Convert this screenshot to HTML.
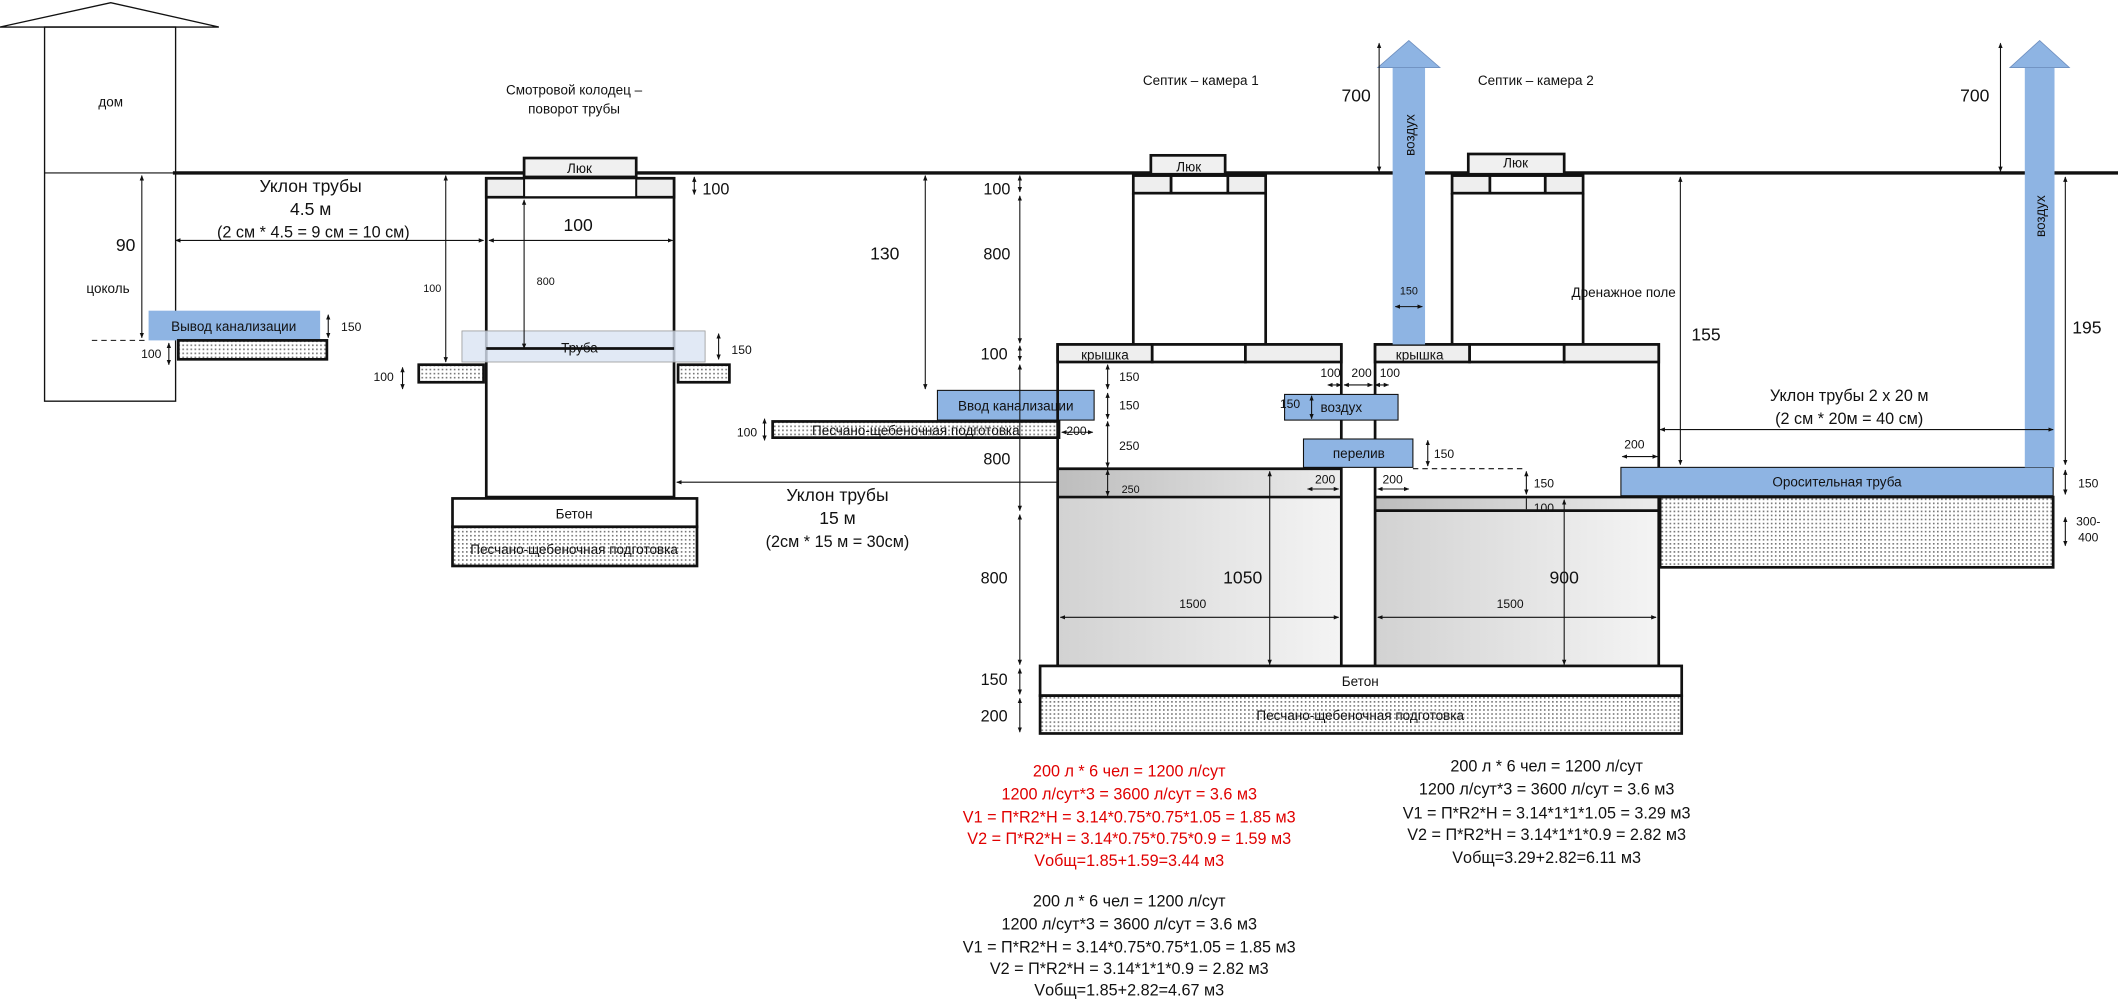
<!DOCTYPE html>
<html><head><meta charset="utf-8"><style>
html,body{margin:0;padding:0;background:#fff;}
svg{display:block;}
text{font-family:"Liberation Sans","DejaVu Sans",sans-serif;fill:#111;}
</style></head><body>
<svg width="2118" height="1002" viewBox="0 0 1568 741.8" preserveAspectRatio="none" xmlns="http://www.w3.org/2000/svg">
<defs>
<pattern id="h" width="3" height="3" patternUnits="userSpaceOnUse"><rect width="3" height="3" fill="#fff"/><rect width="1.2" height="1.2" fill="#777"/></pattern>
<linearGradient id="g1" x1="0" y1="0" x2="1" y2="0"><stop offset="0" stop-color="#d2d2d2"/><stop offset="1" stop-color="#f4f4f4"/></linearGradient>
<linearGradient id="g2" x1="0" y1="0" x2="1" y2="0"><stop offset="0" stop-color="#bdbdbd"/><stop offset="1" stop-color="#ececec"/></linearGradient>
<marker id="a" viewBox="0 0 10 10" refX="9" refY="5" markerWidth="5" markerHeight="5" orient="auto-start-reverse"><path d="M0,1 L10,5 L0,9z" fill="#111"/></marker>
</defs>
<g stroke="#111" fill="none">
<!-- house -->
<polyline points="0,20 82,2 162,20 0,20" stroke-width="1"/>
<rect x="33" y="20" width="97" height="277" stroke-width="1"/>
<line x1="33" y1="128" x2="130" y2="128" stroke-width="0.8"/>
<!-- ground -->
<line x1="128" y1="128" x2="1568" y2="128" stroke-width="2.5"/>
<!-- vyvod -->
<rect x="110" y="230" width="127" height="22" fill="#8eb4e3" stroke="none"/>
<rect x="132" y="252" width="110" height="14" fill="url(#h)" stroke-width="2"/>
<line x1="68" y1="252" x2="110" y2="252" stroke-dasharray="4,3" stroke-width="0.8"/>
<line x1="105" y1="130" x2="105" y2="250" marker-start="url(#a)" marker-end="url(#a)" stroke-width="0.8"/>
<line x1="243" y1="233" x2="243" y2="250" marker-start="url(#a)" marker-end="url(#a)" stroke-width="0.8"/>
<line x1="125" y1="254" x2="125" y2="270" marker-start="url(#a)" marker-end="url(#a)" stroke-width="0.8"/>
<line x1="130" y1="178" x2="358" y2="178" marker-start="url(#a)" marker-end="url(#a)" stroke-width="0.8"/>
<!-- well -->
<rect x="360" y="132" width="139" height="236" stroke-width="2"/>
<rect x="360" y="132" width="139" height="14" fill="#eee" stroke-width="2"/>
<rect x="388" y="132" width="83" height="14" fill="#fff" stroke-width="1.5"/>
<rect x="388" y="117" width="83" height="14" fill="#f0f0f0" stroke-width="2"/>
<line x1="514" y1="131" x2="514" y2="144" marker-start="url(#a)" marker-end="url(#a)" stroke-width="0.8"/>
<line x1="362" y1="178" x2="498" y2="178" marker-start="url(#a)" marker-end="url(#a)" stroke-width="0.8"/>
<rect x="342" y="245" width="180" height="23" fill="#dae3f3" stroke="#999" stroke-width="0.6" fill-opacity="0.8"/>
<line x1="360" y1="258" x2="499" y2="258" stroke-width="2"/>
<line x1="388" y1="148" x2="388" y2="258" marker-start="url(#a)" marker-end="url(#a)" stroke-width="0.8"/>
<line x1="532" y1="247" x2="532" y2="266" marker-start="url(#a)" marker-end="url(#a)" stroke-width="0.8"/>
<rect x="310" y="270" width="48" height="13" fill="url(#h)" stroke-width="2"/>
<rect x="502" y="270" width="38" height="13" fill="url(#h)" stroke-width="2"/>
<line x1="298" y1="272" x2="298" y2="288" marker-start="url(#a)" marker-end="url(#a)" stroke-width="0.8"/>
<line x1="330" y1="130" x2="330" y2="268" marker-start="url(#a)" marker-end="url(#a)" stroke-width="0.8"/>
<rect x="335" y="369" width="181" height="21" fill="#fff" stroke-width="2"/>
<rect x="335" y="390" width="181" height="29" fill="url(#h)" stroke-width="2"/>
<line x1="784" y1="357" x2="501" y2="357" marker-end="url(#a)" stroke-width="0.8"/>
<!-- vvod -->
<line x1="685" y1="130" x2="685" y2="288" marker-start="url(#a)" marker-end="url(#a)" stroke-width="0.8"/>
<rect x="694" y="289" width="116" height="22" fill="#8eb4e3" stroke-width="0.8"/>
<rect x="572" y="312" width="212" height="12" fill="url(#h)" stroke-width="2"/>
<line x1="566" y1="310" x2="566" y2="326" marker-start="url(#a)" marker-end="url(#a)" stroke-width="0.8"/>
<!-- chamber 1 -->
<rect x="783" y="347" width="210" height="146" fill="url(#g1)" stroke="none"/>
<rect x="783" y="347" width="210" height="21" fill="url(#g2)" stroke="none"/>
<line x1="783" y1="347" x2="993" y2="347" stroke-width="2"/>
<line x1="783" y1="368" x2="993" y2="368" stroke-width="2"/>
<polyline points="783,493 783,255 993,255 993,493" stroke-width="2"/>
<rect x="783" y="255" width="70" height="13" fill="#eee" stroke-width="2"/>
<rect x="853" y="255" width="69" height="13" fill="#fff" stroke-width="2"/>
<rect x="922" y="255" width="71" height="13" fill="#eee" stroke-width="2"/>
<line x1="839" y1="143" x2="839" y2="255" stroke-width="2"/>
<line x1="937" y1="143" x2="937" y2="255" stroke-width="2"/>
<rect x="839" y="130" width="28" height="13" fill="#eee" stroke-width="2"/>
<rect x="867" y="130" width="42" height="13" fill="#fff" stroke-width="2"/>
<rect x="909" y="130" width="28" height="13" fill="#eee" stroke-width="2"/>
<rect x="852" y="115" width="55" height="14" fill="#f0f0f0" stroke-width="2"/>
<!-- chamber 2 -->
<rect x="1018" y="368" width="210" height="125" fill="url(#g1)" stroke="none"/>
<rect x="1018" y="368" width="210" height="10" fill="url(#g2)" stroke="none"/>
<line x1="1018" y1="368" x2="1228" y2="368" stroke-width="2"/>
<line x1="1018" y1="378" x2="1228" y2="378" stroke-width="2"/>
<polyline points="1018,493 1018,255 1228,255 1228,493" stroke-width="2"/>
<rect x="1018" y="255" width="70" height="13" fill="#eee" stroke-width="2"/>
<rect x="1088" y="255" width="70" height="13" fill="#fff" stroke-width="2"/>
<rect x="1158" y="255" width="70" height="13" fill="#eee" stroke-width="2"/>
<line x1="1075" y1="143" x2="1075" y2="255" stroke-width="2"/>
<line x1="1172" y1="143" x2="1172" y2="255" stroke-width="2"/>
<rect x="1075" y="130" width="28" height="13" fill="#eee" stroke-width="2"/>
<rect x="1103" y="130" width="41" height="13" fill="#fff" stroke-width="2"/>
<rect x="1144" y="130" width="28" height="13" fill="#eee" stroke-width="2"/>
<rect x="1087" y="114" width="71" height="15" fill="#f0f0f0" stroke-width="2"/>
<!-- middle pipes -->
<line x1="993" y1="268" x2="993" y2="493" stroke-width="1.5"/>
<line x1="1018" y1="268" x2="1018" y2="493" stroke-width="1.5"/>
<rect x="951" y="292" width="84" height="19" fill="#8eb4e3" stroke-width="0.8"/>
<rect x="965" y="325" width="81" height="21" fill="#8eb4e3" stroke-width="0.8"/>
<line x1="1046" y1="347" x2="1130" y2="347" stroke-dasharray="4,3" stroke-width="0.8"/>
<line x1="1130" y1="349" x2="1130" y2="366" marker-start="url(#a)" marker-end="url(#a)" stroke-width="0.8"/>
<line x1="1130" y1="369" x2="1130" y2="377" stroke-width="0.8"/>
<line x1="971" y1="293" x2="971" y2="310" marker-start="url(#a)" marker-end="url(#a)" stroke-width="0.8"/>
<line x1="1057" y1="326" x2="1057" y2="345" marker-start="url(#a)" marker-end="url(#a)" stroke-width="0.8"/>
<line x1="983" y1="285" x2="993" y2="285" marker-start="url(#a)" marker-end="url(#a)" stroke-width="0.8"/>
<line x1="995" y1="285" x2="1016" y2="285" marker-start="url(#a)" marker-end="url(#a)" stroke-width="0.8"/>
<line x1="1018" y1="285" x2="1028" y2="285" marker-start="url(#a)" marker-end="url(#a)" stroke-width="0.8"/>
<line x1="968" y1="362" x2="991" y2="362" marker-start="url(#a)" marker-end="url(#a)" stroke-width="0.8"/>
<line x1="1020" y1="362" x2="1043" y2="362" marker-start="url(#a)" marker-end="url(#a)" stroke-width="0.8"/>
<!-- air pipe 1 -->
<rect x="1031" y="50" width="24" height="205" fill="#8eb4e3" stroke="none"/>
<polygon points="1020,50 1043,30 1066,50" fill="#8eb4e3" stroke="#6f8fbf" stroke-width="0.6"/>
<line x1="1021" y1="32" x2="1021" y2="127" marker-start="url(#a)" marker-end="url(#a)" stroke-width="0.8"/>
<line x1="1033" y1="227" x2="1053" y2="227" marker-start="url(#a)" marker-end="url(#a)" stroke-width="0.8"/>
<!-- inner chamber dims -->
<line x1="820" y1="270" x2="820" y2="288" marker-start="url(#a)" marker-end="url(#a)" stroke-width="0.8"/>
<line x1="820" y1="291" x2="820" y2="310" marker-start="url(#a)" marker-end="url(#a)" stroke-width="0.8"/>
<line x1="820" y1="312" x2="820" y2="346" marker-start="url(#a)" marker-end="url(#a)" stroke-width="0.8"/>
<line x1="820" y1="348" x2="820" y2="367" marker-start="url(#a)" marker-end="url(#a)" stroke-width="0.8"/>
<line x1="786" y1="320" x2="809" y2="320" marker-start="url(#a)" marker-end="url(#a)" stroke-width="0.8"/>
<line x1="940" y1="349" x2="940" y2="492" marker-start="url(#a)" marker-end="url(#a)" stroke-width="0.8"/>
<line x1="1158" y1="370" x2="1158" y2="492" marker-start="url(#a)" marker-end="url(#a)" stroke-width="0.8"/>
<line x1="785" y1="457" x2="991" y2="457" marker-start="url(#a)" marker-end="url(#a)" stroke-width="0.8"/>
<line x1="1020" y1="457" x2="1226" y2="457" marker-start="url(#a)" marker-end="url(#a)" stroke-width="0.8"/>
<!-- left vertical dims -->
<line x1="755" y1="130" x2="755" y2="142" marker-start="url(#a)" marker-end="url(#a)" stroke-width="0.8"/>
<line x1="755" y1="145" x2="755" y2="254" marker-start="url(#a)" marker-end="url(#a)" stroke-width="0.8"/>
<line x1="755" y1="256" x2="755" y2="267" marker-start="url(#a)" marker-end="url(#a)" stroke-width="0.8"/>
<line x1="755" y1="270" x2="755" y2="378" marker-start="url(#a)" marker-end="url(#a)" stroke-width="0.8"/>
<line x1="755" y1="381" x2="755" y2="492" marker-start="url(#a)" marker-end="url(#a)" stroke-width="0.8"/>
<line x1="755" y1="495" x2="755" y2="514" marker-start="url(#a)" marker-end="url(#a)" stroke-width="0.8"/>
<line x1="755" y1="517" x2="755" y2="542" marker-start="url(#a)" marker-end="url(#a)" stroke-width="0.8"/>
<!-- base -->
<rect x="770" y="493" width="475" height="22" fill="#fff" stroke-width="2"/>
<rect x="770" y="515" width="475" height="28" fill="url(#h)" stroke-width="2"/>
<!-- drainage -->
<rect x="1229" y="368" width="291" height="52" fill="url(#h)" stroke-width="2"/>
<rect x="1200" y="346" width="320" height="21" fill="#8eb4e3" stroke-width="0.8"/>
<rect x="1499" y="50" width="22" height="296" fill="#8eb4e3" stroke="none"/>
<polygon points="1488,50 1510,30 1532,50" fill="#8eb4e3" stroke="#6f8fbf" stroke-width="0.6"/>
<line x1="1481" y1="32" x2="1481" y2="127" marker-start="url(#a)" marker-end="url(#a)" stroke-width="0.8"/>
<line x1="1529" y1="131" x2="1529" y2="344" marker-start="url(#a)" marker-end="url(#a)" stroke-width="0.8"/>
<line x1="1529" y1="348" x2="1529" y2="366" marker-start="url(#a)" marker-end="url(#a)" stroke-width="0.8"/>
<line x1="1529" y1="383" x2="1529" y2="404" marker-start="url(#a)" marker-end="url(#a)" stroke-width="0.8"/>
<line x1="1244" y1="131" x2="1244" y2="344" marker-start="url(#a)" marker-end="url(#a)" stroke-width="0.8"/>
<line x1="1229" y1="318" x2="1520" y2="318" marker-start="url(#a)" marker-end="url(#a)" stroke-width="0.8"/>
<line x1="1201" y1="338" x2="1227" y2="338" marker-start="url(#a)" marker-end="url(#a)" stroke-width="0.8"/>
</g>
<g font-size="10" text-anchor="middle">
<text x="82" y="79">дом</text>
<text x="80" y="217">цоколь</text>
<text x="93" y="186" font-size="13">90</text>
<text x="173" y="245">Вывод канализации</text>
<text x="260" y="245" font-size="9">150</text>
<text x="112" y="265" font-size="9">100</text>
<text x="230" y="142" font-size="13">Уклон трубы</text>
<text x="230" y="159" font-size="13">4.5 м</text>
<text x="232" y="176" font-size="12">(2 см * 4.5 = 9 см = 10 см)</text>
<text x="425" y="70">Смотровой колодец –</text>
<text x="425" y="84">поворот трубы</text>
<text x="429" y="128">Люк</text>
<text x="530" y="144" font-size="12">100</text>
<text x="428" y="171" font-size="13">100</text>
<text x="404" y="211" font-size="8">800</text>
<text x="320" y="216" font-size="8">100</text>
<text x="429" y="261" fill="#444">Труба</text>
<text x="549" y="262" font-size="9">150</text>
<text x="284" y="282" font-size="9">100</text>
<text x="425" y="384">Бетон</text>
<text x="425" y="410">Песчано-щебеночная подготовка</text>
<text x="620" y="371" font-size="13">Уклон трубы</text>
<text x="620" y="388" font-size="13">15 м</text>
<text x="620" y="405" font-size="12">(2см * 15 м = 30см)</text>
<text x="655" y="192" font-size="13">130</text>
<text x="752" y="304">Ввод канализации</text>
<text x="678" y="322" fill="#333">Песчано-щебеночная подготовка</text>
<text x="553" y="323" font-size="9">100</text>
<text x="797" y="322" font-size="9">200</text>
<text x="889" y="63">Септик – камера 1</text>
<text x="1137" y="63">Септик – камера 2</text>
<text x="880" y="127">Люк</text>
<text x="1122" y="124">Люк</text>
<text x="818" y="266">крышка</text>
<text x="1051" y="266">крышка</text>
<text x="738" y="144" font-size="12">100</text>
<text x="738" y="192" font-size="12">800</text>
<text x="736" y="266" font-size="12">100</text>
<text x="738" y="344" font-size="12">800</text>
<text x="736" y="432" font-size="12">800</text>
<text x="736" y="507" font-size="12">150</text>
<text x="736" y="534" font-size="12">200</text>
<text x="836" y="282" font-size="9">150</text>
<text x="836" y="303" font-size="9">150</text>
<text x="836" y="333" font-size="9">250</text>
<text x="837" y="365" font-size="8">250</text>
<text x="993" y="305">воздух</text>
<text x="1006" y="339">перелив</text>
<text x="955" y="302" font-size="9">150</text>
<text x="1069" y="339" font-size="9">150</text>
<text x="985" y="279" font-size="9">100</text>
<text x="1008" y="279" font-size="9">200</text>
<text x="1029" y="279" font-size="9">100</text>
<text x="981" y="358" font-size="9">200</text>
<text x="1031" y="358" font-size="9">200</text>
<text x="1143" y="361" font-size="9">150</text>
<text x="1143" y="379" font-size="9">100</text>
<text x="920" y="432" font-size="13">1050</text>
<text x="1158" y="432" font-size="13">900</text>
<text x="883" y="450" font-size="9">1500</text>
<text x="1118" y="450" font-size="9">1500</text>
<text x="1007" y="508">Бетон</text>
<text x="1007" y="533" fill="#333">Песчано-щебеночная подготовка</text>
<text x="1004" y="75" font-size="13">700</text>
<text x="1462" y="75" font-size="13">700</text>
<text x="1043" y="218" font-size="8">150</text>
<text transform="translate(1047,100) rotate(-90)" font-size="10">воздух</text>
<text transform="translate(1514,160) rotate(-90)" font-size="10">воздух</text>
<text x="1202" y="220">Дренажное поле</text>
<text x="1263" y="252" font-size="13">155</text>
<text x="1545" y="247" font-size="13">195</text>
<text x="1369" y="297" font-size="12">Уклон трубы 2 х 20 м</text>
<text x="1369" y="314" font-size="12">(2 см * 20м = 40 см)</text>
<text x="1210" y="332" font-size="9">200</text>
<text x="1360" y="360">Оросительная труба</text>
<text x="1546" y="361" font-size="9">150</text>
<text x="1546" y="389" font-size="9">300-</text>
<text x="1546" y="401" font-size="9">400</text>
</g>
<g font-size="12" text-anchor="middle">
<g fill="#e00000">
<text x="836" y="575" style="fill:#e00000">200 л * 6 чел = 1200 л/сут</text>
<text x="836" y="592" style="fill:#e00000">1200 л/сут*3 = 3600 л/сут = 3.6 м3</text>
<text x="836" y="609" style="fill:#e00000">V1 = П*R2*H = 3.14*0.75*0.75*1.05 = 1.85 м3</text>
<text x="836" y="625" style="fill:#e00000">V2 = П*R2*H = 3.14*0.75*0.75*0.9 = 1.59 м3</text>
<text x="836" y="641" style="fill:#e00000">Vобщ=1.85+1.59=3.44 м3</text>
</g>
<text x="836" y="671">200 л * 6 чел = 1200 л/сут</text>
<text x="836" y="688">1200 л/сут*3 = 3600 л/сут = 3.6 м3</text>
<text x="836" y="705">V1 = П*R2*H = 3.14*0.75*0.75*1.05 = 1.85 м3</text>
<text x="836" y="721">V2 = П*R2*H = 3.14*1*1*0.9 = 2.82 м3</text>
<text x="836" y="737">Vобщ=1.85+2.82=4.67 м3</text>
<text x="1145" y="571">200 л * 6 чел = 1200 л/сут</text>
<text x="1145" y="588">1200 л/сут*3 = 3600 л/сут = 3.6 м3</text>
<text x="1145" y="606">V1 = П*R2*H = 3.14*1*1*1.05 = 3.29 м3</text>
<text x="1145" y="622">V2 = П*R2*H = 3.14*1*1*0.9 = 2.82 м3</text>
<text x="1145" y="639">Vобщ=3.29+2.82=6.11 м3</text>
</g>
</svg>
</body></html>
